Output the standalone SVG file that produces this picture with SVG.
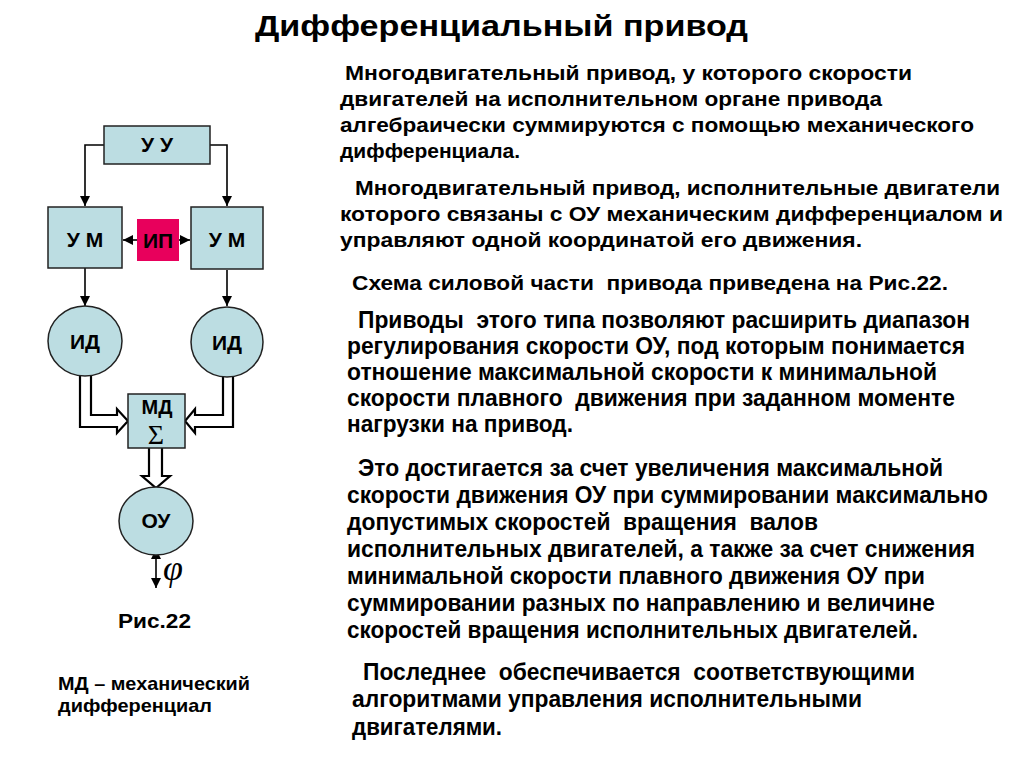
<svg xmlns="http://www.w3.org/2000/svg" width="1024" height="767" viewBox="0 0 1024 767">
<style>
text{font-family:"Liberation Sans",Arial,sans-serif;font-weight:bold;fill:#000}
.t{font-size:30px}
.p{font-size:20px}
.n{font-size:23px}
.lbl{font-size:21px;text-anchor:middle}
.box{fill:#bcdde2;stroke:#222;stroke-width:1.5}
.ln{fill:none;stroke:#000;stroke-width:1.6}
.dbl{fill:#fff;stroke:#000;stroke-width:2.2;stroke-linejoin:miter}
.serif{font-family:"Liberation Serif","Times New Roman",serif;font-weight:normal}
</style>
<defs>
<marker id="ah2" viewBox="0 0 10 10" refX="10" refY="5" markerWidth="10" markerHeight="10" orient="auto-start-reverse" markerUnits="userSpaceOnUse">
<path d="M0,0 L10,5 L0,10 z" fill="#000"/>
</marker>
</defs>
<rect width="1024" height="767" fill="#fff"/>
<text class="t" x="255" y="36" textLength="493" lengthAdjust="spacingAndGlyphs">Дифференциальный привод</text>

<g id="connectors">
<path class="ln" d="M104,145 H85 V206" marker-end="url(#ah2)"/>
<path class="ln" d="M210,145 H227 V206" marker-end="url(#ah2)"/>
<path class="ln" d="M137,240 H123" marker-end="url(#ah2)"/>
<path class="ln" d="M179,240 H190" marker-end="url(#ah2)"/>
<path class="ln" d="M85,268 V306" marker-end="url(#ah2)"/>
<path class="ln" d="M227,270 V306" marker-end="url(#ah2)"/>
<path class="dbl" d="M80,372 V427 H117 V433 L128,421 L117,409 V415 H91 V372"/>
<path class="dbl" d="M233,372 V427 H195 V433 L185,421 L195,409 V415 H223 V372"/>
<path class="dbl" d="M149,448 V476 H142 L156,488 L170,476 H162 V448"/>
<path class="ln" d="M156,549 V588" marker-start="url(#ah2)" marker-end="url(#ah2)"/>
</g>

<g id="uu"><rect class="box" x="104" y="126" width="106" height="38"/><text class="lbl" x="157" y="152">У У</text></g>
<g id="um1"><rect class="box" x="48" y="207" width="74" height="61"/><text class="lbl" x="85" y="247">У М</text></g>
<g id="um2"><rect class="box" x="191" y="207" width="72" height="62"/><text class="lbl" x="227" y="247">У М</text></g>
<g id="ip"><rect x="137" y="219" width="42" height="42" fill="#e8005c"/><text class="lbl" x="158" y="248">ИП</text></g>
<g id="id1"><ellipse class="box" cx="85" cy="341" rx="37" ry="35"/><text class="lbl" x="85" y="349">ИД</text></g>
<g id="id2"><ellipse class="box" cx="227" cy="342" rx="36" ry="35"/><text class="lbl" x="227" y="350">ИД</text></g>
<g id="md"><rect class="box" x="128" y="394" width="57" height="54"/><text x="157" y="414" style="font-size:20px;text-anchor:middle">МД</text><text class="serif" x="156" y="444" style="font-size:28px;text-anchor:middle">Σ</text></g>
<g id="ou"><ellipse class="box" cx="156" cy="521" rx="37" ry="34"/><text class="lbl" x="156" y="528">ОУ</text></g>
<text class="serif" x="163" y="580" style="font-style:italic;font-size:36px">φ</text>

<text x="118" y="628" style="font-size:20px" textLength="73" lengthAdjust="spacingAndGlyphs">Рис.22</text>
<text x="58" y="690" style="font-size:19px" textLength="192" lengthAdjust="spacingAndGlyphs">МД – механический</text>
<text x="58" y="712" style="font-size:19px" textLength="154" lengthAdjust="spacingAndGlyphs">дифференциал</text>

<g id="p1">
<text class="p" x="345" y="80" textLength="567" lengthAdjust="spacingAndGlyphs">Многодвигательный привод, у которого скорости</text>
<text class="p" x="340" y="106" textLength="542" lengthAdjust="spacingAndGlyphs">двигателей на исполнительном органе привода</text>
<text class="p" x="340" y="132" textLength="634" lengthAdjust="spacingAndGlyphs">алгебраически суммируются с помощью механического</text>
<text class="p" x="340" y="158" textLength="180" lengthAdjust="spacingAndGlyphs">дифференциала.</text>
</g>
<g id="p2">
<text class="p" x="355" y="195" textLength="645" lengthAdjust="spacingAndGlyphs">Многодвигательный привод, исполнительные двигатели</text>
<text class="p" x="340" y="221" textLength="663" lengthAdjust="spacingAndGlyphs">которого связаны с ОУ механическим дифференциалом и</text>
<text class="p" x="340" y="247" textLength="522" lengthAdjust="spacingAndGlyphs">управляют одной координатой его движения.</text>
</g>
<g id="p3">
<text class="p" x="352" y="290" textLength="596" lengthAdjust="spacingAndGlyphs" xml:space="preserve">Схема силовой части  привода приведена на Рис.22.</text>
</g>
<g id="p4">
<text class="n" x="358" y="328" textLength="612" lengthAdjust="spacingAndGlyphs" xml:space="preserve">Приводы  этого типа позволяют расширить диапазон</text>
<text class="n" x="347" y="354" textLength="618" lengthAdjust="spacingAndGlyphs">регулирования скорости ОУ, под которым понимается</text>
<text class="n" x="347" y="380" textLength="590" lengthAdjust="spacingAndGlyphs">отношение максимальной скорости к минимальной</text>
<text class="n" x="347" y="406" textLength="608" lengthAdjust="spacingAndGlyphs" xml:space="preserve">скорости плавного  движения при заданном моменте</text>
<text class="n" x="347" y="432" textLength="226" lengthAdjust="spacingAndGlyphs">нагрузки на привод.</text>
</g>
<g id="p5">
<text class="n" x="358" y="476" textLength="585" lengthAdjust="spacingAndGlyphs">Это достигается за счет увеличения максимальной</text>
<text class="n" x="347" y="503" textLength="641" lengthAdjust="spacingAndGlyphs">скорости движения ОУ при суммировании максимально</text>
<text class="n" x="347" y="530" textLength="471" lengthAdjust="spacingAndGlyphs" xml:space="preserve">допустимых скоростей  вращения  валов</text>
<text class="n" x="347" y="557" textLength="628" lengthAdjust="spacingAndGlyphs">исполнительных двигателей, а также за счет снижения</text>
<text class="n" x="347" y="584" textLength="578" lengthAdjust="spacingAndGlyphs">минимальной скорости плавного движения ОУ при</text>
<text class="n" x="347" y="611" textLength="588" lengthAdjust="spacingAndGlyphs">суммировании разных по направлению и величине</text>
<text class="n" x="347" y="638" textLength="571" lengthAdjust="spacingAndGlyphs">скоростей вращения исполнительных двигателей.</text>
</g>
<g id="p6">
<text class="n" x="363" y="680" textLength="552" lengthAdjust="spacingAndGlyphs" xml:space="preserve">Последнее  обеспечивается  соответствующими</text>
<text class="n" x="352" y="707" textLength="510" lengthAdjust="spacingAndGlyphs">алгоритмами управления исполнительными</text>
<text class="n" x="352" y="735" textLength="150" lengthAdjust="spacingAndGlyphs">двигателями.</text>
</g>
</svg>
